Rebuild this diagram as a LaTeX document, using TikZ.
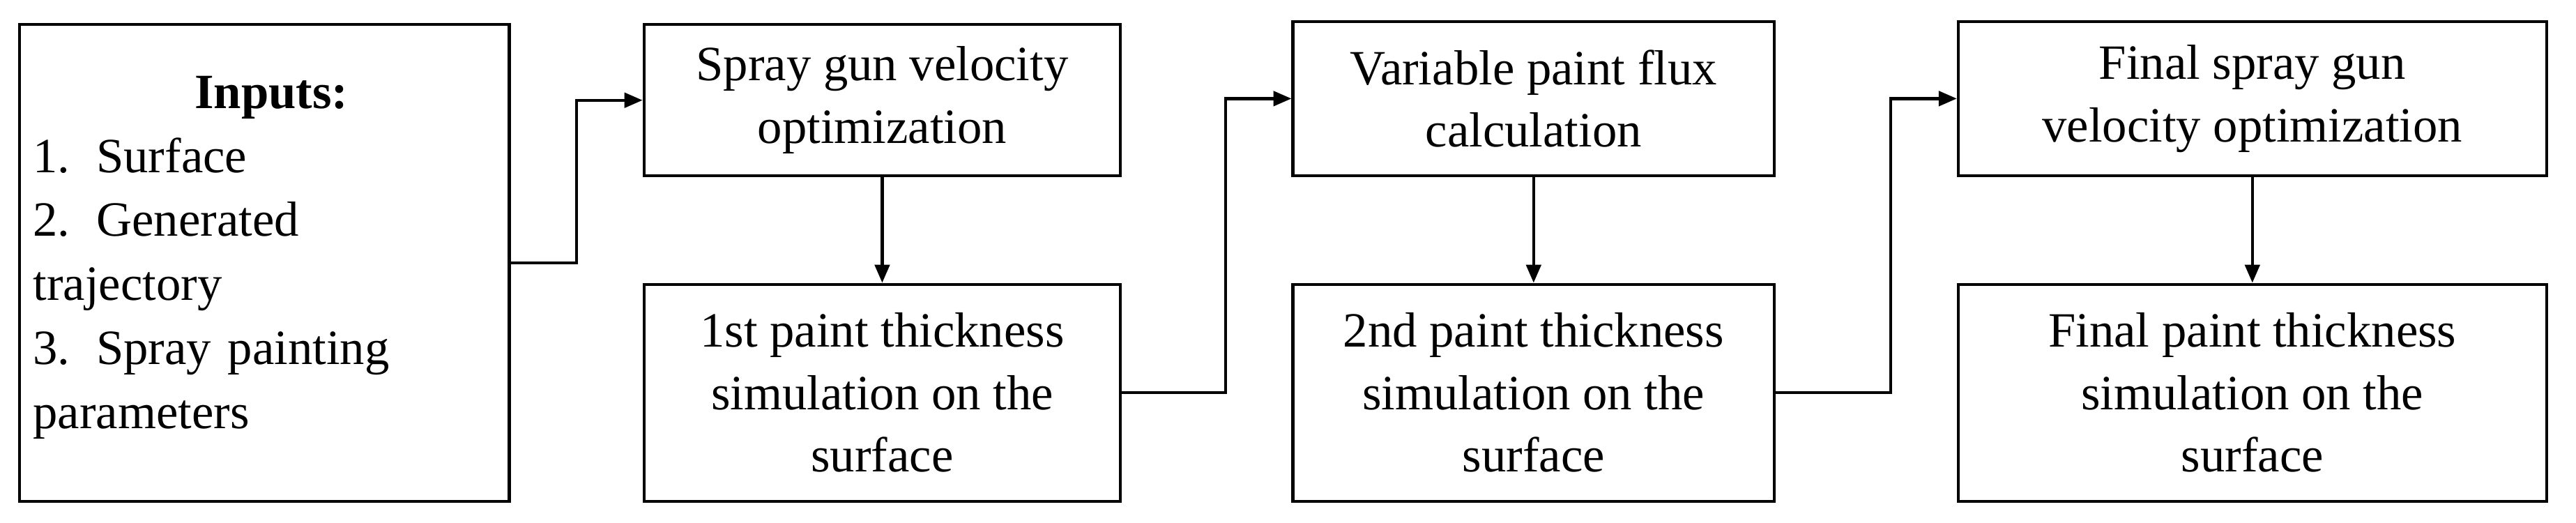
\documentclass[tikz,border=0pt]{standalone}
\usepackage{fontspec}
\setmainfont{Liberation Serif}
\usetikzlibrary{positioning,arrows.meta}

\begin{document}
\begin{tikzpicture}[x=1pt,y=-1pt,
  box/.style={draw,line width=1.8pt,inner sep=0pt,align=center,font=\fontsize{30}{38}\selectfont},
  flow/.style={line width=1.8pt,-{Triangle[length=11pt,width=9pt]}}]
\useasboundingbox (0,0) rectangle (1568,318);
% input block
\node[box,minimum width=298pt,minimum height=290pt] (inp) at (161,160) {};
\node[font=\fontsize{30}{39}\selectfont,text width=290pt,inner sep=0pt,anchor=north west] (inptext) at (20,46)
  {{\centering\textbf{Inputs:}\par}\raggedright 1.\hspace{16pt}Surface\\2.\hspace{16pt}Generated\\trajectory\\3.\hspace{16pt}Spray painting\\parameters};
% upper row
\node[box,minimum width=290pt,minimum height=92pt] (vel) at (537,61) {Spray gun velocity\\optimization};
\node[box,minimum width=293pt,minimum height=94pt] (flux) at (933.5,60) {Variable paint flux\\calculation};
\node[box,minimum width=358pt,minimum height=94pt] (fvel) at (1371,60) {Final spray gun\\velocity optimization};
% lower row
\node[box,minimum width=290pt,minimum height=132pt] (sim1) at (537,239) {1st paint thickness\\simulation on the\\surface};
\node[box,minimum width=293pt,minimum height=132pt] (sim2) at (933.5,239) {2nd paint thickness\\simulation on the\\surface};
\node[box,minimum width=358pt,minimum height=132pt] (sim3) at (1371,239) {Final paint thickness\\simulation on the\\surface};
% connectors
\draw[flow] (inp.east) -- ++(40,0) |- (vel.west);
\draw[flow] (sim1.east) -- ++(63,0) |- (flux.west);
\draw[flow] (sim2.east) -- ++(70,0) |- (fvel.west);
\draw[flow] (vel) -- (sim1);
\draw[flow] (flux) -- (sim2);
\draw[flow] (fvel) -- (sim3);
\end{tikzpicture}
\end{document}
